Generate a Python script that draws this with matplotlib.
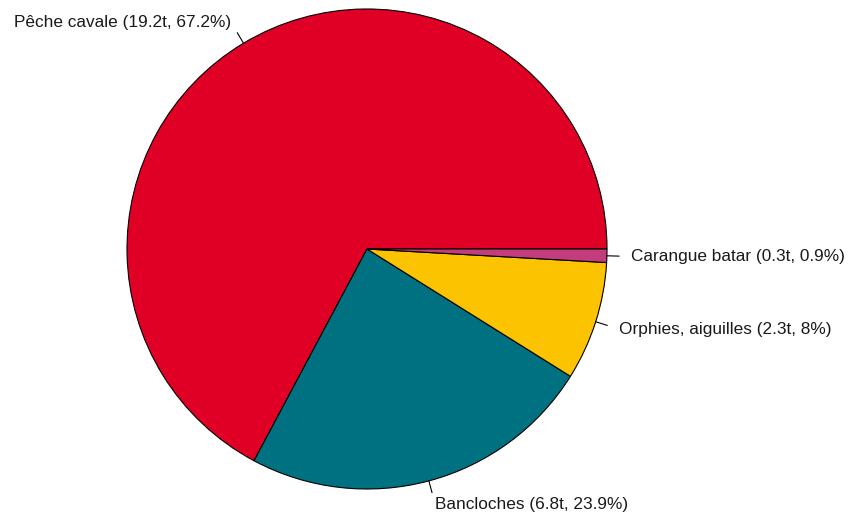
import matplotlib
matplotlib.use("Agg")
import matplotlib.pyplot as plt
from matplotlib.patches import Wedge
import numpy as np

especes = ["Pêche cavale", "Bancloches", "Orphies, aiguilles", "Carangue batar"]
tonnes = ["19.2", "6.8", "2.3", "0.3"]
pourcent = [67.2, 23.9, 8, 0.9]
couleurs = ["#E00025", "#007180", "#FCC300", "#C33C7C"]

W, H = 848, 517
cx, cy, r = 367, 249, 240

fig = plt.figure(figsize=(W / 100, H / 100), dpi=100)
ax = fig.add_axes([0, 0, 1, 1])
ax.set_xlim(-cx / r, (W - cx) / r)
ax.set_ylim(-(H - cy) / r, cy / r)
ax.axis("off")

# comme pie() de R : départ à 0°, sens antihoraire
frac = np.array(pourcent) / sum(pourcent)
bornes = np.concatenate([[0], np.cumsum(frac)]) * 360
for i in range(len(especes)):
    a0, a1 = bornes[i], bornes[i + 1]
    ax.add_patch(Wedge((0, 0), 1, a0, a1, facecolor=couleurs[i],
                       edgecolor="black", linewidth=0.8))
    mid = np.deg2rad((a0 + a1) / 2)
    c, s = np.cos(mid), np.sin(mid)
    ax.plot([c, 1.05 * c], [s, 1.05 * s], color="black", linewidth=0.8)
    lab = "%s (%st, %s%%)" % (especes[i], tonnes[i], ("%g" % pourcent[i]))
    ax.text(1.1 * c, 1.1 * s, lab, ha="left" if c > 0 else "right",
            va="center", fontsize=12.4, family="Liberation Sans", color="#1a1a1a")

fig.savefig("out.png", dpi=100)
